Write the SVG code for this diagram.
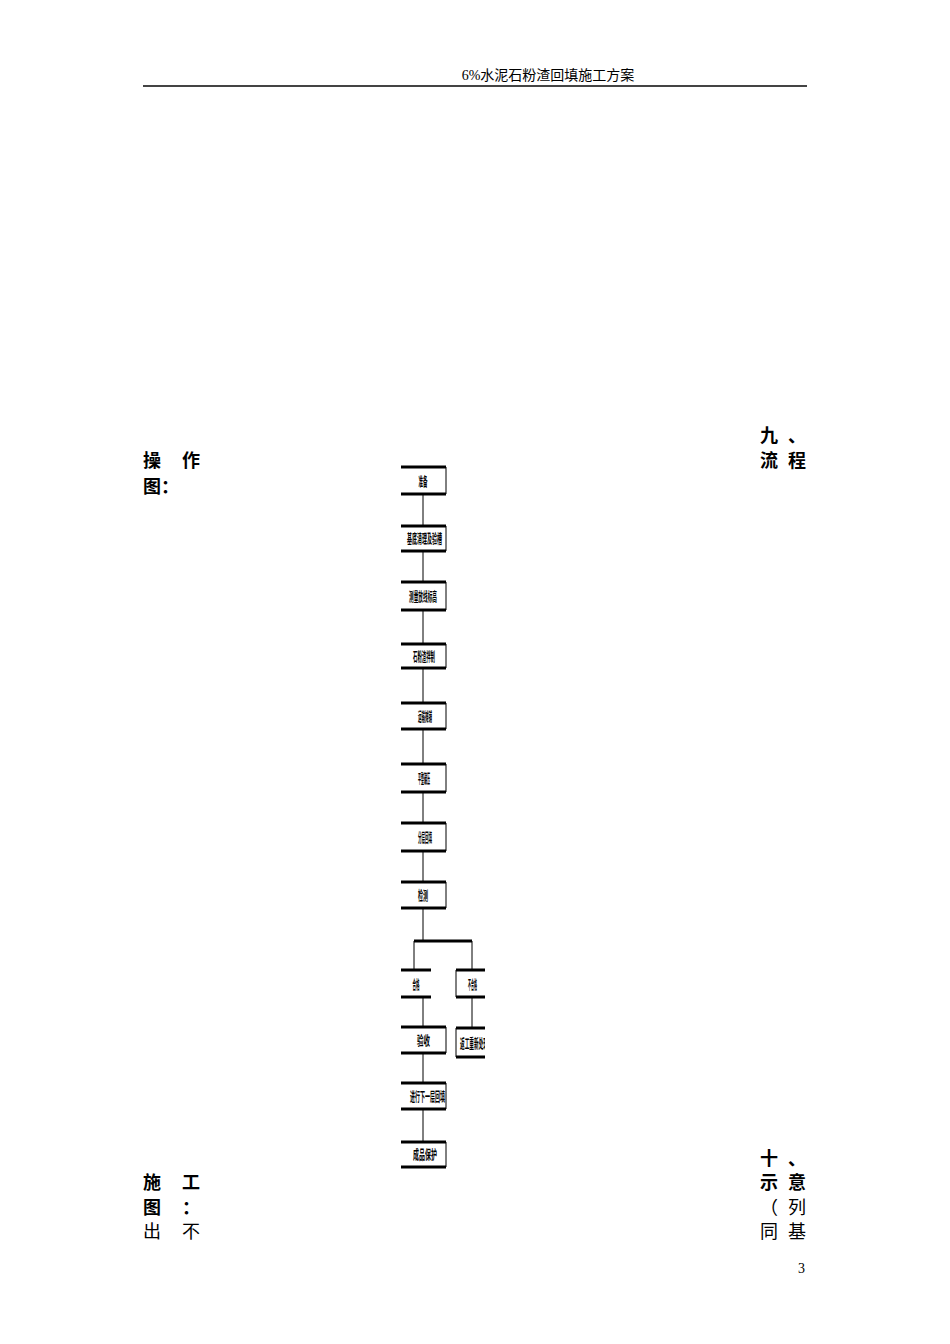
<svg xmlns="http://www.w3.org/2000/svg" width="950" height="1344" viewBox="0 0 950 1344">
<style>
.hdr{font-family:"Liberation Serif","Noto Sans CJK SC",serif;font-size:14px;fill:#000}
.b{font-family:"Noto Sans CJK SC",sans-serif;font-size:18px;font-weight:bold;fill:#000}
.r{font-family:"Noto Sans CJK SC",sans-serif;font-size:18px;fill:#000}
.pn{font-family:"Liberation Serif",serif;font-size:14px;fill:#000}
.bt{font-family:"Noto Sans CJK SC",sans-serif;font-size:13px;font-weight:bold;fill:#000;text-anchor:middle}
.thick{stroke:#000;stroke-width:3;fill:none}
.thin{stroke:#000;stroke-width:1;fill:none}
</style>
<defs>
<clipPath id="clip"><rect x="0" y="0" width="485" height="1344"/></clipPath>
</defs>
<rect width="950" height="1344" fill="#fff"/>
<g id="header">
<text class="hdr" x="548" y="80" text-anchor="middle">6%水泥石粉渣回填施工方案</text>
<line x1="143" y1="86" x2="807" y2="86" stroke="#444" stroke-width="2"/>
</g>
<g id="side-text">
<text class="b" x="760" y="442">九</text><text class="b" x="788" y="442">、</text>
<text class="b" x="760" y="467">流</text><text class="b" x="788" y="467">程</text>
<text class="b" x="143" y="467">操</text><text class="b" x="182" y="467">作</text>
<text class="b" x="143" y="493">图：</text>
<text class="b" x="760" y="1165">十</text><text class="b" x="788" y="1165">、</text>
<text class="b" x="143" y="1189">施</text><text class="b" x="182" y="1189">工</text>
<text class="b" x="760" y="1189">示</text><text class="b" x="788" y="1189">意</text>
<text class="b" x="143" y="1214">图</text><text class="b" x="182" y="1214">：</text>
<text class="r" x="760" y="1214">（</text><text class="r" x="788" y="1214">列</text>
<text class="r" x="143" y="1238">出</text><text class="r" x="182" y="1238">不</text>
<text class="r" x="760" y="1238">同</text><text class="r" x="788" y="1238">基</text>
<text class="pn" x="798" y="1273">3</text>
</g>
<g id="connectors">
<line class="thin" x1="423" y1="494" x2="423" y2="526"/>
<line class="thin" x1="423" y1="551" x2="423" y2="582"/>
<line class="thin" x1="423" y1="610" x2="423" y2="644"/>
<line class="thin" x1="423" y1="668" x2="423" y2="703"/>
<line class="thin" x1="423" y1="729" x2="423" y2="764"/>
<line class="thin" x1="423" y1="792" x2="423" y2="823"/>
<line class="thin" x1="423" y1="851" x2="423" y2="882"/>
<line class="thin" x1="423" y1="908" x2="423" y2="941"/>
<line class="thick" x1="414" y1="941" x2="472" y2="941"/>
<line class="thin" x1="414" y1="941" x2="414" y2="970"/>
<line class="thin" x1="472" y1="941" x2="472" y2="970"/>
<line class="thin" x1="423" y1="997" x2="423" y2="1027"/>
<line class="thin" x1="472" y1="997" x2="472" y2="1028"/>
<line class="thin" x1="423" y1="1053" x2="423" y2="1083"/>
<line class="thin" x1="423" y1="1109" x2="423" y2="1142"/>
</g>
<g id="n1"><path class="thick" d="M401 467H446M401 494H446"/><line class="thin" x1="446" y1="467" x2="446" y2="494"/><text class="bt" x="423" y="486" textLength="9" lengthAdjust="spacingAndGlyphs">准备</text></g>
<g id="n2"><path class="thick" d="M401 526H446M401 551H446"/><line class="thin" x1="446" y1="526" x2="446" y2="551"/><text class="bt" x="424.5" y="543" textLength="35" lengthAdjust="spacingAndGlyphs">基底清理及验槽</text></g>
<g id="n3"><path class="thick" d="M401 582H446M401 610H446"/><line class="thin" x1="446" y1="582" x2="446" y2="610"/><text class="bt" x="423" y="601" textLength="28" lengthAdjust="spacingAndGlyphs">测量放线标高</text></g>
<g id="n4"><path class="thick" d="M401 644H446M401 668H446"/><line class="thin" x1="446" y1="644" x2="446" y2="668"/><text class="bt" x="424" y="661" textLength="22" lengthAdjust="spacingAndGlyphs">石粉渣拌制</text></g>
<g id="n5"><path class="thick" d="M401 703H446M401 729H446"/><line class="thin" x1="446" y1="703" x2="446" y2="729"/><text class="bt" x="425" y="721" textLength="14" lengthAdjust="spacingAndGlyphs">运输摊铺</text></g>
<g id="n6"><path class="thick" d="M401 764H446M401 792H446"/><line class="thin" x1="446" y1="764" x2="446" y2="792"/><text class="bt" x="424" y="783" textLength="12" lengthAdjust="spacingAndGlyphs">平整碾压</text></g>
<g id="n7"><path class="thick" d="M401 823H446M401 851H446"/><line class="thin" x1="446" y1="823" x2="446" y2="851"/><text class="bt" x="425" y="842" textLength="14" lengthAdjust="spacingAndGlyphs">分层回填</text></g>
<g id="n8"><path class="thick" d="M401 882H446M401 908H446"/><line class="thin" x1="446" y1="882" x2="446" y2="908"/><text class="bt" x="423" y="900" textLength="10" lengthAdjust="spacingAndGlyphs">检测</text></g>
<g id="n9"><path class="thick" d="M401 970H431M401 997H431"/><text class="bt" x="416" y="989" textLength="7" lengthAdjust="spacingAndGlyphs">合格</text></g>
<g id="n10" clip-path="url(#clip)"><path class="thick" d="M456 970H490M456 997H490"/><line class="thin" x1="456" y1="970" x2="456" y2="997"/><text class="bt" x="472.5" y="989" textLength="9" lengthAdjust="spacingAndGlyphs">不合格</text></g>
<g id="n11"><path class="thick" d="M401 1027H446M401 1053H446"/><line class="thin" x1="446" y1="1027" x2="446" y2="1053"/><text class="bt" x="423.5" y="1045" textLength="13" lengthAdjust="spacingAndGlyphs">验收</text></g>
<g id="n12" clip-path="url(#clip)"><path class="thick" d="M456 1028H490M456 1057H490"/><line class="thin" x1="456" y1="1028" x2="456" y2="1057"/><text class="bt" x="474" y="1048" textLength="28" lengthAdjust="spacingAndGlyphs">返工重新处理</text></g>
<g id="n13"><path class="thick" d="M401 1083H446M401 1109H446"/><line class="thin" x1="446" y1="1083" x2="446" y2="1109"/><text class="bt" x="427.5" y="1101" textLength="35" lengthAdjust="spacingAndGlyphs">进行下一层回填</text></g>
<g id="n14"><path class="thick" d="M401 1142H446M401 1167H446"/><line class="thin" x1="446" y1="1142" x2="446" y2="1167"/><text class="bt" x="425" y="1159" textLength="24" lengthAdjust="spacingAndGlyphs">成品保护</text></g>
</svg>
